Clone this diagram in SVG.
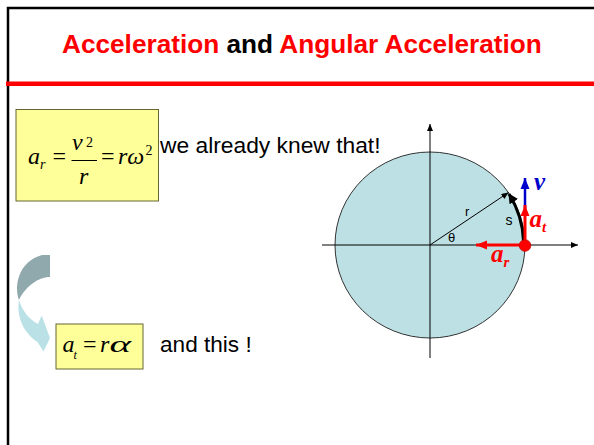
<svg xmlns="http://www.w3.org/2000/svg" width="594" height="445" viewBox="0 0 594 445">
<style>
.sans{font-family:"Liberation Sans",Arial,sans-serif}
.math{font-family:"Liberation Serif","Times New Roman",serif;font-style:italic;fill:#000}
.up{font-style:normal}
.box{fill:#FFFF99;stroke:#666633;stroke-width:1}
.axis{stroke:#000;stroke-width:1;fill:none}
.lbl{font-family:"Liberation Serif","Times New Roman",serif;font-style:italic;font-weight:bold;font-size:25px}
</style>
<defs>
<marker id="ah" markerUnits="userSpaceOnUse" markerWidth="8" markerHeight="6" refX="7" refY="3" orient="auto"><path d="M0,0 L7,3 L0,6 Z" fill="#000"/></marker>
<marker id="ahr" markerUnits="userSpaceOnUse" markerWidth="12" markerHeight="10" refX="11" refY="5" orient="auto"><path d="M0,0.5 L11,5 L0,9.5 Z" fill="#FF0000"/></marker>
<marker id="ahb" markerUnits="userSpaceOnUse" markerWidth="12" markerHeight="10" refX="11" refY="5" orient="auto"><path d="M0,0.5 L11,5 L0,9.5 Z" fill="#0000CC"/></marker>
<marker id="ahk" markerUnits="userSpaceOnUse" markerWidth="12" markerHeight="10" refX="9" refY="5" orient="auto"><path d="M0,0 L10,5 L0,10 Z" fill="#000"/></marker>
</defs>
<rect width="594" height="445" fill="#fff"/>
<path d="M8,445 V8 H594" fill="none" stroke="#000" stroke-width="2.5"/>
<rect x="6" y="81.5" width="588" height="4.5" fill="#FF0000"/>

<g id="title">
<text class="sans" x="62" y="53" font-size="26.2" font-weight="bold" fill="#FF0000">Acceleration <tspan fill="#000">and</tspan> Angular Acceleration</text>
</g>

<g id="eq1">
<rect class="box" x="16" y="109.5" width="142.5" height="91.5"/>
<text class="math" font-size="24"><tspan x="28" y="164">a</tspan><tspan x="40" y="168.5" font-size="14">r</tspan><tspan class="up" x="52.5" y="164">=</tspan><tspan class="up" x="101" y="164">=</tspan><tspan x="118" y="164">rω</tspan><tspan class="up" x="145.5" y="154.5" font-size="14">2</tspan></text>
<text class="math" font-size="24"><tspan x="72" y="150">v</tspan><tspan class="up" x="86" y="146.5" font-size="14">2</tspan><tspan x="79" y="183.5">r</tspan></text>
<line x1="71.5" y1="160.5" x2="97" y2="160.5" stroke="#000" stroke-width="1"/>
</g>

<g id="text1">
<text class="sans" x="160" y="153" font-size="22.8" fill="#000">we already knew that!</text>
</g>

<g id="curved-arrow">
<path d="M42,255 L50,255 L50,277 C38,277 25,287 19,300 C14,286 18,262 42,255 Z" fill="#8FA9AD"/>
<path d="M19,300 C22,311 30,320 38,324 L41.7,315.5 L50,338 L43.5,351.5 L37.5,342 C25,334 16,318 19,300 Z" fill="#B9E1E6"/>
</g>

<g id="eq2">
<rect class="box" x="56" y="324" width="87" height="45"/>
<text class="math" font-size="24"><tspan x="62.5" y="351.5">a</tspan><tspan x="73.5" y="359" font-size="12">t</tspan><tspan class="up" x="83" y="351.5">=</tspan><tspan x="100" y="351.5">r</tspan></text>
<text class="math" font-size="24" x="109.5" y="351.5" textLength="21.5" lengthAdjust="spacingAndGlyphs">α</text>
</g>

<g id="text2">
<text class="sans" x="160" y="352" font-size="22.6" fill="#000">and this !</text>
</g>

<g id="wheel">
<ellipse cx="430" cy="245" rx="95" ry="93" fill="#BCE0E4" stroke="#333" stroke-width="1"/>
<text class="sans" x="448" y="242" font-size="13" fill="#000">θ</text>
<text class="sans" x="465" y="216" font-size="13" fill="#000">r</text>
<text class="sans" x="505.5" y="225" font-size="14" fill="#000">s</text>
</g>

<g id="connectors">
<line class="axis" x1="322" y1="245" x2="578" y2="245" marker-end="url(#ah)"/>
<line class="axis" x1="430" y1="358" x2="430" y2="124" marker-end="url(#ah)"/>
<line class="axis" x1="430" y1="245" x2="508.5" y2="192.5" marker-end="url(#ah)"/>
<path d="M523.5,241 A94,94 0 0 0 509,194" fill="none" stroke="#000" stroke-width="3" marker-end="url(#ahk)"/>
<line x1="525" y1="208" x2="525" y2="178" stroke="#0000CC" stroke-width="2.5" marker-end="url(#ahb)"/>
<line x1="525" y1="244" x2="525" y2="205" stroke="#FF0000" stroke-width="3" marker-end="url(#ahr)"/>
<line x1="522" y1="245" x2="476" y2="245" stroke="#FF0000" stroke-width="3" marker-end="url(#ahr)"/>
</g>

<g id="point">
<circle cx="525" cy="245.5" r="5.8" fill="#FF0000" stroke="#CC0000" stroke-width="0.8"/>
</g>

<g id="vector-labels">
<text class="lbl" x="534" y="189.5" fill="#0000CC">v</text>
<text class="lbl" x="529.5" y="227" fill="#FF0000">a<tspan font-size="15" dy="5">t</tspan></text>
<text class="lbl" x="491" y="262" fill="#FF0000">a<tspan font-size="15" dy="5">r</tspan></text>
</g>
</svg>
